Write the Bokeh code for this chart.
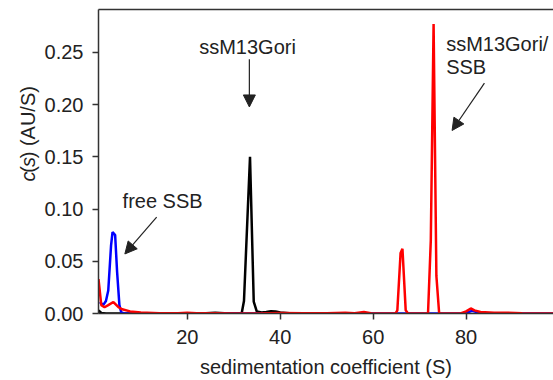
from math import pi
from bokeh.plotting import figure
from bokeh.layouts import row
from bokeh.models import Range1d, LinearAxis, FixedTicker, Label, Arrow, NormalHead, NumeralTickFormatter
from bokeh.embed import file_html
from bokeh.resources import INLINE

# ssM13Gori (black)
s_black = [0.9, 1.5, 2.5, 5, 10, 15, 20, 24, 26, 28, 31.0, 31.7, 32.2, 33.5, 34.3, 34.95, 36.0, 37.0, 38.0, 39.0, 40.0, 42.0, 45.0, 50.0, 55.0]
c_black = [0.003, 0.0005, 0.0, 0.0, 0.0, 0.0, 0.0, 0.0003, 0.0008, 0.0002, 0.0, 0.0, 0.012, 0.150, 0.0114, 0.002, 0.001, 0.0015, 0.0022, 0.0020, 0.001, 0.0003, 0.0, 0.0, 0.0]

# free SSB (blue)
s_blue = [1.2, 1.9, 2.5, 3.0, 3.6, 3.92, 4.48, 4.9, 5.4, 5.8, 6.5, 20, 40, 60, 65, 70, 75, 79.5, 81.3, 83.0, 85.0, 100]
c_blue = [0.011, 0.008, 0.012, 0.022, 0.065, 0.078, 0.075, 0.040, 0.008, 0.001, 0.0, 0.0, 0.0, 0.0, 0.0, 0.0, 0.0, 0.0, 0.0025, 0.0005, 0.0, 0.0]

# ssM13Gori/SSB (red)
s_red = [0.9, 1.5, 2.2, 3.0, 4.1, 5.2, 6.0, 7.7, 10, 14, 18, 20, 22, 26, 30, 35, 40, 45, 50, 54, 56, 58, 59.5, 61,
         64.8, 65.2, 65.9, 66.3, 67.0, 67.5, 71.8, 72.4, 73.0, 73.6, 74.2, 78.8, 80.0, 81.0, 81.8, 83.1, 86, 89, 92, 95, 100]
c_red = [0.033, 0.008, 0.006, 0.008, 0.011, 0.006, 0.004, 0.002, 0.001, 0.0003, 0.0002, 0.0008, 0.0002, 0.0003, 0.0, 0.0, 0.0004, 0.0002, 0.0003, 0.0008, 0.0003, 0.0015, 0.0003, 0.0,
         0.0, 0.003, 0.058, 0.062, 0.003, 0.0, 0.0, 0.070, 0.277, 0.036, 0.0, 0.0, 0.002, 0.0048, 0.003, 0.0015, 0.0008, 0.0008, 0.0002, 0.0, 0.0]

x_ticks = [20, 40, 60, 80]
y_ticks = [0.0, 0.05, 0.10, 0.15, 0.20, 0.25]

FONT = "Liberation Sans"
AX = "#333333"
TXT = "#222222"

# narrow panel holding the y-axis title (italic c and s)
lab = figure(width=40, height=380, x_range=Range1d(0, 40), y_range=Range1d(380, 0),
             output_backend="svg", toolbar_location=None,
             min_border_left=0, min_border_right=0, min_border_top=0, min_border_bottom=0)
lab.axis.visible = False
lab.grid.visible = False
lab.outline_line_color = None
parts = [("c", "italic", 215), ("(", "normal", 204), ("s", "italic", 197), (") (AU/S)", "normal", 186)]
for txt, style, py in parts:
    lab.add_layout(Label(x=27, y=py, text=txt, angle=pi / 2,
                         text_font=FONT, text_font_size="20px", text_font_style=style,
                         text_color=TXT, text_align="left", text_baseline="middle"))

p = figure(width=513, height=380, x_range=Range1d(0.9, 98.8), y_range=Range1d(0, 0.291),
           output_backend="svg", toolbar_location=None,
           min_border_left=58, min_border_right=0, min_border_top=9, min_border_bottom=65)
p.outline_line_color = None
p.grid.visible = False

xax = p.below[0]
yax = p.left[0]

# top frame line
top = LinearAxis(ticker=FixedTicker(ticks=[]), major_label_text_font_size="0px",
                 major_tick_out=0, major_tick_in=0, minor_tick_out=0, minor_tick_in=0,
                 axis_line_color=AX, axis_line_width=1.5, major_label_standoff=0, axis_label_standoff=0)
p.add_layout(top, "above")

for ax in (xax, yax):
    ax.axis_line_color = AX
    ax.axis_line_width = 1.5
    ax.major_tick_line_color = AX
    ax.major_tick_line_width = 1.5
    ax.major_tick_in = 0
    ax.major_tick_out = 6
    ax.minor_tick_line_color = None
    ax.major_label_text_font = FONT
    ax.major_label_text_font_size = "20px"
    ax.major_label_text_color = TXT

xax.ticker = FixedTicker(ticks=x_ticks)
xax.major_label_standoff = 10
xax.axis_label = "sedimentation coefficient (S)"
xax.axis_label_text_font = FONT
xax.axis_label_text_font_size = "20px"
xax.axis_label_text_font_style = "normal"
xax.axis_label_text_color = TXT
xax.axis_label_standoff = 9

yax.ticker = FixedTicker(ticks=y_ticks)
yax.formatter = NumeralTickFormatter(format="0.00")
yax.major_label_standoff = 9

p.line(s_black, c_black, line_color="black", line_width=2.5)
p.line(s_blue, c_blue, line_color="#0000ff", line_width=2.5)
p.line(s_red, c_red, line_color="#ff0000", line_width=2.5)

def note(x, y, t, align="left"):
    p.add_layout(Label(x=x, y=y, text=t, text_font=FONT, text_font_size="20px",
                       text_color=TXT, text_align=align, text_baseline="middle"))

note(32.97, 0.2548, "ssM13Gori", "center")
note(75.7, 0.2581, "ssM13Gori/")
note(75.7, 0.2362, "SSB")
note(6.08, 0.1074, "free SSB")

def arrow(x0, y0, x1, y1):
    p.add_layout(Arrow(end=NormalHead(size=12, fill_color=TXT, line_color=TXT, line_width=1),
                       x_start=x0, y_start=y0, x_end=x1, y_end=y1,
                       line_color=TXT, line_width=1.2))

arrow(33.36, 0.2433, 33.36, 0.1977)
arrow(83.94, 0.2205, 76.98, 0.1752)
arrow(13.41, 0.0922, 6.57, 0.0570)

layout = row(lab, p, spacing=0)
open("out.html", "w").write(file_html(layout, INLINE))
